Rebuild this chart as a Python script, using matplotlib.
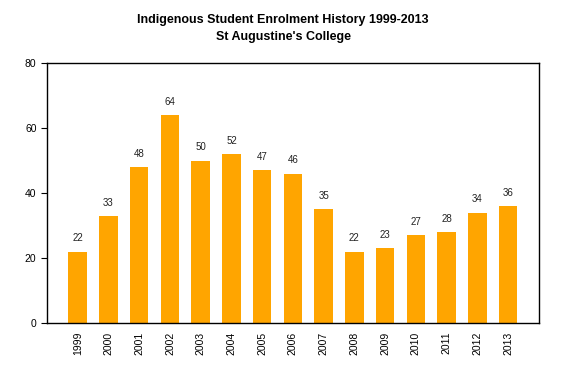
import matplotlib
matplotlib.use('Agg')
import matplotlib.pyplot as plt

plt.rcParams['font.family'] = ['Liberation Sans', 'DejaVu Sans']

years = ['1999', '2000', '2001', '2002', '2003', '2004', '2005', '2006',
         '2007', '2008', '2009', '2010', '2011', '2012', '2013']
students = [22, 33, 48, 64, 50, 52, 47, 46, 35, 22, 23, 27, 28, 34, 36]

fig = plt.figure(figsize=(5.66, 3.77), dpi=100)
ax = fig.add_axes([0.083, 0.143, 0.869, 0.690])

x = range(len(years))
ax.bar(x, students, width=0.6, color='#FFA500')
for i, v in enumerate(students):
    ax.text(i, v + 2.5, str(v), ha='center', va='bottom', fontsize=7, color='#222222')

ax.set_xlim(-1, len(years))
ax.set_ylim(0, 80)
ax.set_yticks([0, 20, 40, 60, 80])
ax.set_xticks(list(x))
ax.set_xticklabels(years, rotation=90, fontsize=7.5)
ax.tick_params(axis='y', labelsize=7.5, length=4)
ax.tick_params(axis='x', length=0, pad=6)
for s in ax.spines.values():
    s.set_linewidth(1)

fig.text(0.5, 0.948, 'Indigenous Student Enrolment History 1999-2013',
         ha='center', va='center', fontsize=9, fontweight='bold')
fig.text(0.5, 0.903, "St Augustine's College",
         ha='center', va='center', fontsize=9, fontweight='bold')

fig.savefig('out.png', dpi=100)
